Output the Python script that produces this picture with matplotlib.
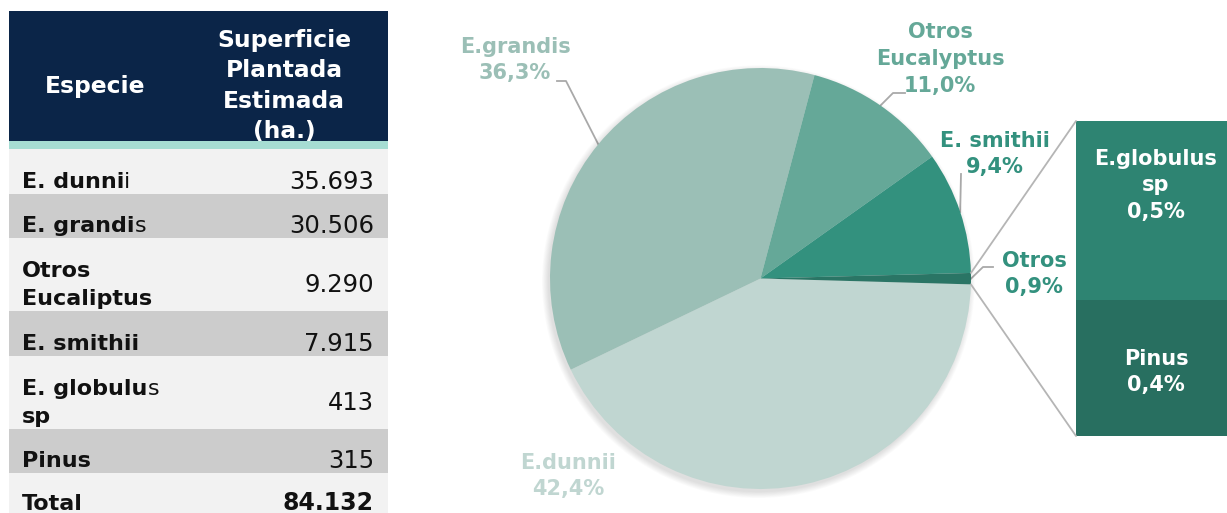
import numpy as np
import matplotlib.pyplot as plt
from matplotlib.patches import Rectangle, Circle, ConnectionPatch

plt.rcParams['font.family'] = ['DejaVu Sans']

# datos de la tabla
encabezados = ['Especie', 'Superficie\nPlantada\nEstimada\n(ha.)']
especies = ['E. dunnii', 'E. grandis', 'Otros\nEucaliptus', 'E. smithii', 'E. globulus\nsp', 'Pinus']
cola_normal = [1, 1, 0, 0, 1, 0]  # letras finales de la 1ra linea que no van en negrita
superficie = [35693, 30506, 9290, 7915, 413, 315]
total_nombre = 'Total'
total_valor = sum(superficie)

# datos de la torta (Otros = E. globulus sp + Pinus)
torta_nombres = ['E.dunnii', 'E.grandis', 'Otros\nEucalyptus', 'E. smithii', 'Otros']
torta_valores = [35693, 30506, 9290, 7915, 413 + 315]
barra_nombres = ['E.globulus\nsp', 'Pinus']
barra_valores = [413, 315]

torta_colores = ['#c0d6d1', '#9bbfb6', '#65a898', '#33917e', '#2a7565']
etiqueta_colores = ['#c0d6d1', '#9bbfb6', '#65a898', '#33917e', '#33917e']
barra_colores = ['#2e8472', '#286f60']
gris_linea = '#a9a9a9'

W, H = 1227, 513


def miles(v):
    return f'{v:,}'.replace(',', '.')


def porc(v, tot):
    return f'{v / tot * 100:.1f}'.replace('.', ',') + '%'


fig = plt.figure(figsize=(W / 100, H / 100), dpi=100)
ax = fig.add_axes([0, 0, 1, 1])
ax.set_xlim(0, W)
ax.set_ylim(H, 0)
ax.axis('off')
renderer = fig.canvas.get_renderer()


def texto_mixto(x, y, negrita, normal, size=16):
    t = ax.text(x, y, negrita, fontsize=size, fontweight='bold', va='baseline', color='#111111')
    if normal:
        w = t.get_window_extent(renderer=renderer).width
        ax.text(x + w, y, normal, fontsize=size, va='baseline', color='#111111')


# ---- tabla ----
X0, X1 = 9, 388
ax.add_patch(Rectangle((X0, 11), X1 - X0, 130, color='#0b2548', lw=0))
ax.add_patch(Rectangle((X0, 141), X1 - X0, 8, color='#a6ddd3', lw=0))
ax.text(95, 86, encabezados[0], color='white', fontsize=16.8, fontweight='bold', ha='center', va='center')
ax.text(284, 86, encabezados[1], color='white', fontsize=16.8, fontweight='bold', ha='center', va='center',
        linespacing=1.42)

filas = [149, 194, 238, 311, 356, 429, 473, 516]
for i in range(len(filas) - 1):
    color = '#f2f2f2' if i % 2 == 0 else '#cccccc'
    ax.add_patch(Rectangle((X0, filas[i]), X1 - X0, filas[i + 1] - filas[i], color=color, lw=0))

for i, (nombre, n, valor) in enumerate(zip(especies, cola_normal, superficie)):
    fondo = filas[i + 1]
    lineas = nombre.split('\n')
    bases = [fondo - 6] if len(lineas) == 1 else [fondo - 34, fondo - 6]
    primera = lineas[0]
    corte = len(primera) - n
    texto_mixto(22, bases[0], primera[:corte], primera[corte:])
    for lin, b in zip(lineas[1:], bases[1:]):
        texto_mixto(22, b, lin, '')
    ax.text(374, np.mean(bases) + 1, miles(valor), fontsize=17.5, ha='right', va='baseline', color='#111111')

texto_mixto(22, filas[-1] - 6, total_nombre, '')
ax.text(374, filas[-1] - 6, miles(total_valor), fontsize=17, fontweight='bold', ha='right',
        va='baseline', color='#111111')

# ---- torta ----
cx, cy, R = 760.5, 278.5, 210.5
pax = fig.add_axes([(cx - R) / W, (H - cy - R) / H, 2 * R / W, 2 * R / H])
for k in range(8):
    pax.add_patch(Circle((-0.01, -0.015), 1 + 0.004 * k, color='black', alpha=0.014, lw=0, zorder=0,
                         clip_on=False))
wedges, _ = pax.pie(torta_valores, colors=torta_colores, startangle=-1.6, counterclock=False,
                    radius=1, wedgeprops=dict(lw=0))
pax.set_xlim(-1, 1)
pax.set_ylim(-1, 1)
pax.axis('off')

tot = sum(torta_valores)
etiq_pos = [(568, 476), (515, 60), (940, 59), (995, 154), (1034, 274)]
quiebres = [None, [(566, 81), (557, 81)], [(893, 93), (905, 93)], [(961, 174)], [(983, 267), (993, 267)]]
for w, nombre, v, col, pos, q in zip(wedges, torta_nombres, torta_valores, etiqueta_colores, etiq_pos, quiebres):
    ax.text(pos[0], pos[1], nombre + '\n' + porc(v, tot), color=col, fontsize=15, fontweight='bold',
            ha='center', va='center', linespacing=1.42)
    if q is None:
        continue
    ang = np.deg2rad((w.theta1 + w.theta2) / 2)
    px, py = cx + R * np.cos(ang), cy - R * np.sin(ang)
    xs = [px] + [p[0] for p in q]
    ys = [py] + [p[1] for p in q]
    ax.plot(xs, ys, color=gris_linea, lw=1.3)

# ---- barra ----
bx0, bx1, by0, by1 = 1076, 1236, 121, 436
bax = fig.add_axes([bx0 / W, (H - by1) / H, (bx1 - bx0) / W, (by1 - by0) / H])
abajo = 0
segmentos = []
for nombre, v, col in zip(barra_nombres[::-1], barra_valores[::-1], barra_colores[::-1]):
    bax.bar(0, v, bottom=abajo, width=1, color=col, lw=0)
    segmentos.append((nombre, v, abajo))
    abajo += v
bax.set_xlim(-0.5, 0.5)
bax.set_ylim(0, abajo)
bax.axis('off')
for nombre, v, base in segmentos:
    frac = 0.64 if '\n' in nombre else 0.47
    bax.text(0, base + v * frac, nombre + '\n' + porc(v, total_valor), color='white', fontsize=15,
             fontweight='bold', ha='center', va='center', linespacing=1.42)

# lineas de la torta a la barra
otros = wedges[-1]
for ang, ybar in [(otros.theta2, abajo), (otros.theta1, 0)]:
    a = np.deg2rad(ang)
    con = ConnectionPatch(xyA=(np.cos(a), np.sin(a)), coordsA=pax.transData,
                          xyB=(-0.5, ybar), coordsB=bax.transData, color='#b5b5b5', lw=1.3)
    fig.add_artist(con)

fig.savefig('out.png', dpi=100)
